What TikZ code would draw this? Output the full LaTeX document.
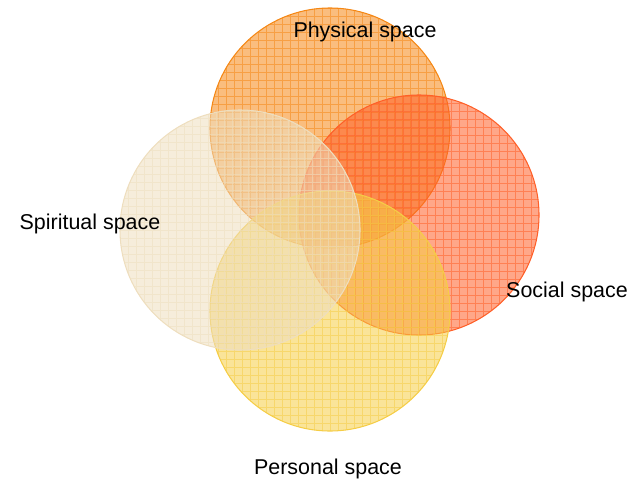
\documentclass[tikz,border=0pt]{standalone}
\usepackage{fontspec}
\setmainfont{Liberation Sans}
\usepackage{tikz}

\definecolor{physicalcol}{RGB}{245,135,20}
\definecolor{socialcol}{RGB}{255,95,40}
\definecolor{spiritcol}{RGB}{238,222,190}
\definecolor{personalcol}{RGB}{245,205,70}

\tikzset{
	spacecircle/.style={circle,minimum size=4.8cm,inner sep=0pt,draw=#1,line width=0.6pt,
		fill=#1,fill opacity=0.55,
		path picture={\draw[#1,line width=0.35pt,draw opacity=0.55,xstep=0.16,ystep=0.16]
			(path picture bounding box.south west) grid (path picture bounding box.north east);}},
	spacelabel/.style={font=\fontsize{12.2}{14}\selectfont,inner sep=0pt}
}

\begin{document}
\begin{tikzpicture}
	\useasboundingbox (0,0) rectangle (12.64,9.6);

	\node [spacecircle=physicalcol] (physical) at (6.6, 7.04) {};
	\node [spacecircle=socialcol] (social) at (8.38, 5.3) {};
	\node [spacecircle=personalcol] (personal) at (6.6, 3.38) {};
	\node [spacecircle=spiritcol] (spiritual) at (4.8, 5.0) {};

	\node [spacelabel] (physlabel) at (7.3, 8.96) {Physical space};
	\node [spacelabel] (spiritlabel) at (1.8, 5.12) {Spiritual space};
	\node [spacelabel] (sociallabel) at (11.34, 3.76) {Social space};
	\node [spacelabel] (perslabel) at (6.56, 0.22) {Personal space};
\end{tikzpicture}
\end{document}
